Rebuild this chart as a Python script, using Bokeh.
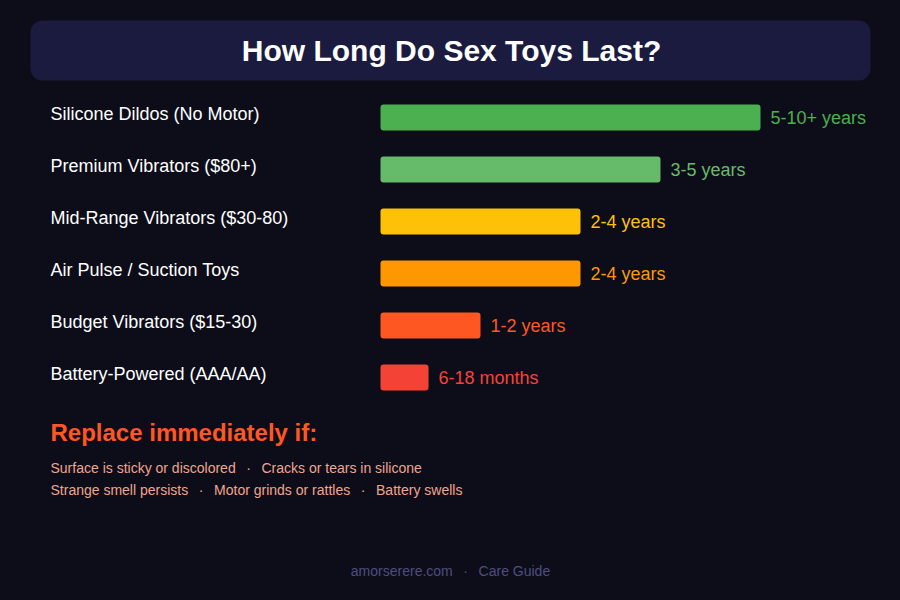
from bokeh.plotting import figure
from bokeh.models import Range1d, Label, ColumnDataSource
from bokeh.core.properties import value
from bokeh.embed import file_html
from bokeh.resources import INLINE

# Lifespan data
categories = [
    "Silicone Dildos (No Motor)",
    "Premium Vibrators ($80+)",
    "Mid-Range Vibrators ($30-80)",
    "Air Pulse / Suction Toys",
    "Budget Vibrators ($15-30)",
    "Battery-Powered (AAA/AA)",
]
scores = [95, 70, 50, 50, 25, 12]
lifespans = ["5-10+ years", "3-5 years", "2-4 years", "2-4 years", "1-2 years", "6-18 months"]
colors = ["#4caf50", "#66bb6a", "#ffc107", "#ff9800", "#ff5722", "#f44336"]

warnings_line1 = ["Surface is sticky or discolored", "Cracks or tears in silicone"]
warnings_line2 = ["Strange smell persists", "Motor grinds or rattles", "Battery swells"]

BG = "#0d0d19"
FONT = "Liberation Sans"
W, H = 900, 600
PX_PER_UNIT = 4.0
BAR_X0 = 380          # pixel where bars start
ROW0, ROW_STEP = 117, 52

p = figure(width=W, height=H, output_backend="svg", toolbar_location=None,
           x_range=Range1d(-BAR_X0 / PX_PER_UNIT, (W - BAR_X0) / PX_PER_UNIT),
           y_range=Range1d(H, 0), min_border=0)
p.axis.visible = False
p.grid.visible = False
p.outline_line_color = None
p.background_fill_color = BG
p.border_fill_color = BG
p.styles = {"background-color": BG}

def sx(px):
    return (px - BAR_X0) / PX_PER_UNIT

# title panel
p.quad(left=[sx(30)], right=[sx(870)], top=[20], bottom=[80],
       fill_color="#1b1b3f", line_color=None, border_radius=12)
p.add_layout(Label(x=451, y=H - 50, x_units="screen", y_units="screen",
                   text="How Long Do Sex Toys Last?", text_font=FONT,
                   text_font_size="30px", text_font_style="bold", text_color="#ffffff",
                   text_align="center", text_baseline="middle"))

rows = [ROW0 + ROW_STEP * i for i in range(len(categories))]
src = ColumnDataSource(dict(y=rows, score=scores, cat=categories,
                            life=lifespans, color=colors,
                            label_y=[r - 4 for r in rows]))

p.hbar(y="y", left=0, right="score", height=26, fill_color="color",
       line_color=None, border_radius=3, source=src)

p.text(x=sx(50), y="label_y", text="cat", source=src, text_color="#ffffff",
       text_font=value(FONT), text_font_size="18px",
       text_align="left", text_baseline="middle")
p.text(x="score", y="y", text="life", source=src, text_color="color",
       x_offset=10, text_font=value(FONT), text_font_size="18px",
       text_align="left", text_baseline="middle")

# replacement warnings
p.add_layout(Label(x=50, y=H - 432, x_units="screen", y_units="screen",
                   text="Replace immediately if:", text_font=FONT,
                   text_font_size="24px", text_font_style="bold", text_color="#ff5722",
                   text_baseline="middle"))
sep = "\u00a0\u00a0\u2009·\u00a0\u00a0\u2009"
for i, line in enumerate([warnings_line1, warnings_line2]):
    p.add_layout(Label(x=50, y=H - (467 + 22 * i), x_units="screen", y_units="screen",
                       text=sep.join(line), text_font=FONT, text_font_size="14px",
                       text_color="#f0a58e", text_baseline="middle"))

p.add_layout(Label(x=450, y=H - 570, x_units="screen", y_units="screen",
                   text="amorserere.com" + sep + "Care Guide", text_font=FONT,
                   text_font_size="14px", text_color="#4e4e80",
                   text_align="center", text_baseline="middle"))

open("out.html", "w").write(file_html(p, INLINE))
